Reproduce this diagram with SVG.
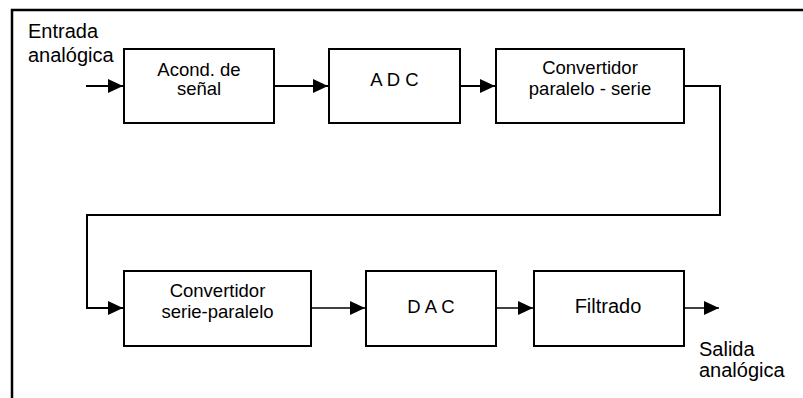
<svg xmlns="http://www.w3.org/2000/svg" width="803" height="398" viewBox="0 0 803 398">
<style>
  .box { fill: #fff; stroke: #000; stroke-width: 2; }
  .t { font-family: "Liberation Sans", Arial, sans-serif; font-size: 18.5px; fill: #000; text-anchor: middle; }
  .lbl { font-family: "Liberation Sans", Arial, sans-serif; font-size: 20px; fill: #000; }
  .c { fill: none; stroke: #000; stroke-width: 2; }
  .c2 { fill: none; stroke: #000; stroke-width: 1.5; }
</style>
<defs>
  <marker id="ah" markerUnits="userSpaceOnUse" markerWidth="16" markerHeight="16" viewBox="0 0 16 16" refX="15" refY="8" orient="auto">
    <path d="M0,1 L15,8 L0,15 Z" fill="#000"/>
  </marker>
</defs>
<rect width="803" height="398" fill="#fff"/>
<g id="frame">
  <path d="M12,398 L12,10 L803,10" fill="none" stroke="#000" stroke-width="2.5"/>
</g>
<g id="connectors">
  <path class="c" d="M86,86 L123,86" marker-end="url(#ah)"/>
  <path class="c" d="M274,86 L328,86" marker-end="url(#ah)"/>
  <path class="c" d="M460,86 L495,86" marker-end="url(#ah)"/>
  <path class="c" d="M684,86 L720,86 L720,215 L87,215 L87,308 L123,308" marker-end="url(#ah)"/>
  <path class="c2" d="M311,308 L365,308" marker-end="url(#ah)"/>
  <path class="c2" d="M496,308 L533,308" marker-end="url(#ah)"/>
  <path class="c2" d="M684,308 L719,308" marker-end="url(#ah)"/>
</g>
<g id="n-entrada">
  <text class="lbl" x="28" y="38">Entrada</text>
  <text class="lbl" x="28" y="62">analógica</text>
</g>
<g id="n-acond">
  <rect class="box" x="124" y="49" width="150" height="74"/>
  <text class="t" x="199" y="76">Acond. de</text>
  <text class="t" x="199" y="95">señal</text>
</g>
<g id="n-adc">
  <rect class="box" x="329" y="49" width="131" height="74"/>
  <text class="t" x="394.5" y="86">A D C</text>
</g>
<g id="n-ps">
  <rect class="box" x="496" y="49" width="188" height="74"/>
  <text class="t" x="590" y="74">Convertidor</text>
  <text class="t" x="590" y="95">paralelo - serie</text>
</g>
<g id="n-sp">
  <rect class="box" x="124" y="271" width="187" height="75"/>
  <text class="t" x="217.5" y="297">Convertidor</text>
  <text class="t" x="217.5" y="318">serie-paralelo</text>
</g>
<g id="n-dac">
  <rect class="box" x="366" y="271" width="130" height="75"/>
  <text class="t" x="431" y="313">D A C</text>
</g>
<g id="n-filtrado">
  <rect class="box" x="534" y="271" width="150" height="75"/>
  <text class="t" x="608" y="313" style="font-size:20px">Filtrado</text>
</g>
<g id="n-salida">
  <text class="lbl" x="699" y="356">Salida</text>
  <text class="lbl" x="699" y="377">analógica</text>
</g>
</svg>
